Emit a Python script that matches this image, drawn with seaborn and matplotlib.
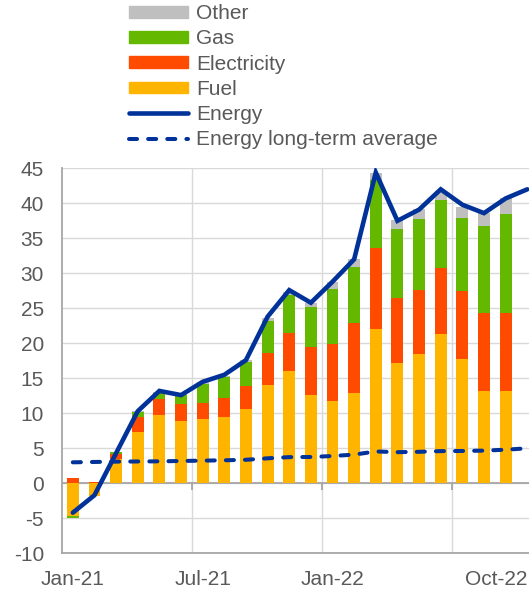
import numpy as np
import pandas as pd
import matplotlib
matplotlib.use("Agg")
import matplotlib.pyplot as plt
from matplotlib.patches import Patch
from matplotlib.lines import Line2D
import seaborn as sns

months = ["Jan-21", "Feb-21", "Mar-21", "Apr-21", "May-21", "Jun-21", "Jul-21", "Aug-21",
          "Sep-21", "Oct-21", "Nov-21", "Dec-21", "Jan-22", "Feb-22", "Mar-22", "Apr-22",
          "May-22", "Jun-22", "Jul-22", "Aug-22", "Sep-22", "Oct-22"]
bar_months = months[:21]
fuel = [-4.67, -1.75, 3.5, 7.3, 9.7, 8.85, 9.2, 9.5, 10.6, 14.05, 16.05, 12.6, 11.75, 12.95,
        22.05, 17.15, 18.5, 21.35, 17.75, 13.25, 13.2]
electricity = [0.7, 0.2, 0.7, 2.15, 2.4, 2.45, 2.25, 2.75, 3.35, 4.6, 5.4, 6.9, 8.1, 9.9,
               11.6, 9.3, 9.05, 9.4, 9.75, 11.15, 11.1]
gas = [-0.3, -0.05, 0.25, 0.8, 0.8, 1.3, 2.8, 2.95, 3.4, 4.6, 5.45, 5.7, 7.9, 8.1,
       9.65, 9.9, 10.2, 9.75, 10.45, 12.3, 14.15]
other = [0.1, 0.0, 0.05, 0.1, 0.2, 0.1, 0.2, 0.2, 0.2, 0.35, 0.5, 0.5, 0.95, 1.05,
         1.05, 1.2, 1.4, 1.2, 1.55, 1.9, 2.3]
energy = [-4.2, -1.7, 4.3, 10.3, 13.2, 12.6, 14.5, 15.5, 17.6, 23.8, 27.6, 25.8, 28.8, 32.0,
          44.4, 37.5, 39.1, 42.0, 39.8, 38.6, 40.7, 42.0]
energy_lta = [3.0, 3.05, 3.1, 3.12, 3.14, 3.19, 3.24, 3.29, 3.36, 3.57, 3.74, 3.76, 3.9, 4.1,
              4.55, 4.45, 4.5, 4.6, 4.62, 4.67, 4.8, 5.0]
xtick_labels = {"Jan-21": 0, "Jul-21": 6, "Jan-22": 12, "Oct-22": 21}

colors = {"Fuel": "#FFB400", "Electricity": "#FF4B00", "Gas": "#65B800", "Other": "#BFBFBF"}
blue = "#003299"
txt = "#595959"
grid_c = "#D9D9D9"
axis_c = "#A6A6A6"

sns.set_theme(style="white")
plt.rcParams["font.family"] = ["Liberation Sans", "DejaVu Sans"]
fs = 15

fig = plt.figure(figsize=(5.29, 5.90), dpi=100)
ax = fig.add_axes([0.1172, 0.0622, 0.8828, 0.6525])

# stacked bars (positive and negative parts stacked separately)
pos_base = np.zeros(len(bar_months))
neg_base = np.zeros(len(bar_months))
for name, vals in [("Fuel", fuel), ("Electricity", electricity), ("Gas", gas), ("Other", other)]:
    v = np.array(vals, dtype=float)
    bottom = np.where(v >= 0, pos_base, neg_base)
    df = pd.DataFrame({"month": bar_months, "value": v})
    sns.barplot(data=df, x="month", y="value", order=months, color=colors[name],
                saturation=1, width=0.55, errorbar=None, linewidth=0,
                bottom=bottom, ax=ax, zorder=2)
    pos_base = pos_base + np.where(v >= 0, v, 0)
    neg_base = neg_base + np.where(v < 0, v, 0)

xs = np.arange(len(months))
ldf = pd.DataFrame({"x": xs, "energy": energy, "lta": energy_lta})
sns.lineplot(data=ldf, x="x", y="lta", color=blue, lw=2.9, ax=ax, sort=False,
             estimator=None, dashes=False, zorder=4, solid_capstyle="round")
ax.lines[-1].set_dashes((2.0, 2.75))
ax.lines[-1].set_dash_capstyle("round")
sns.lineplot(data=ldf, x="x", y="energy", color=blue, lw=3.3, ax=ax, sort=False,
             estimator=None, zorder=5, solid_joinstyle="miter")

ax.set_xlim(-0.5, 21.08)
ax.set_ylim(-10, 45)
ax.set_yticks(np.arange(-10, 46, 5))
ax.set_yticklabels([str(v) for v in range(-10, 46, 5)])
ax.set_xticks(list(xtick_labels.values()))
ax.set_xticklabels(list(xtick_labels.keys()))
ax.set_xticks([5.5, 11.5, 17.5], minor=True)
ax.set_xlabel("")
ax.set_ylabel("")
ax.tick_params(axis="both", which="both", length=0, labelsize=fs, labelcolor=txt)
ax.tick_params(axis="y", pad=13)
ax.tick_params(axis="x", pad=12)
for lab in ax.get_xticklabels():
    if lab.get_text() == "Oct-22":
        lab.set_horizontalalignment("right")
        lab.set_x(21)

ax.grid(axis="y", which="major", color=grid_c, lw=1.0, zorder=0)
ax.grid(axis="x", which="minor", color=grid_c, lw=1.0, zorder=0)
ax.grid(axis="x", which="major", visible=False)
ax.set_axisbelow(True)
ax.axhline(0, color=axis_c, lw=1.3, zorder=1.5)
ax.vlines([5.5, 11.5, 17.5], -1, 0, color=axis_c, lw=1.3, zorder=1.5)

for s in ["top", "right"]:
    ax.spines[s].set_visible(False)
for s in ["left", "bottom"]:
    ax.spines[s].set_color(axis_c)
    ax.spines[s].set_linewidth(1.3)

handles = [Patch(color=colors["Other"], label="Other"),
           Patch(color=colors["Gas"], label="Gas"),
           Patch(color=colors["Electricity"], label="Electricity"),
           Patch(color=colors["Fuel"], label="Fuel"),
           Line2D([], [], color=blue, lw=3.3, solid_capstyle="round", label="Energy"),
           Line2D([], [], color=blue, lw=2.9, dashes=(2.0, 2.75), dash_capstyle="round",
                  label="Energy long-term average")]
leg = fig.legend(handles=handles, loc="upper left", bbox_to_anchor=(0.2439, 0.993),
                 frameon=False, fontsize=fs, handlelength=2.83, handleheight=0.5,
                 handletextpad=0.4, labelspacing=0.3, borderpad=0, borderaxespad=0)
for t in leg.get_texts():
    t.set_color(txt)

fig.savefig("out.png", dpi=100)
